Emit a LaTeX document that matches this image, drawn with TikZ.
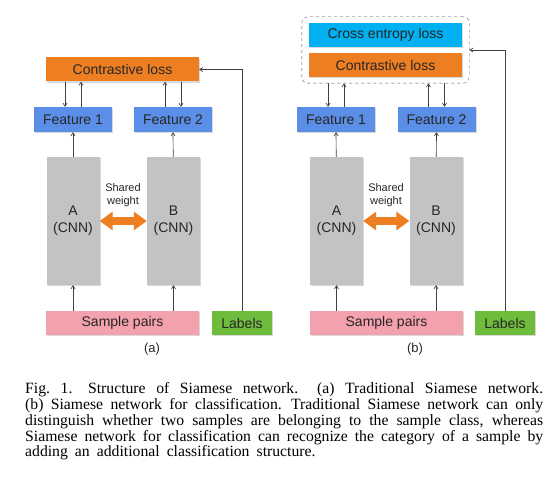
\documentclass[tikz,border=0pt]{standalone}
\usepackage{fontspec}
\setmainfont{Liberation Serif}
\setsansfont{Liberation Sans}
\usetikzlibrary{arrows.meta, positioning, calc, fit, shadows}

\definecolor{lossorange}{HTML}{EE7E22}
\definecolor{featblue}{HTML}{5B8EE6}
\definecolor{ceblue}{HTML}{00B0F0}
\definecolor{cnngray}{HTML}{C3C3C3}
\definecolor{pairpink}{HTML}{F4A1AE}
\definecolor{labgreen}{HTML}{6FBB3C}
\definecolor{linegray}{HTML}{404040}

\newcommand{\capspacing}{\spaceskip=0.45em plus 0.3em minus 0.12em\relax}

\begin{document}
\begin{tikzpicture}[x=1pt, y=-1pt,
  blk/.style={inner sep=0pt, align=center, text=black!85,
    font=\sffamily\fontsize{14}{17}\selectfont,
    drop shadow={shadow xshift=1pt, shadow yshift=-1.2pt, opacity=0.3}},
  lossbox/.style={blk, fill=lossorange, minimum width=153pt, minimum height=24pt},
  cebox/.style={blk, fill=ceblue, minimum width=153pt, minimum height=24pt},
  featbox/.style={blk, fill=featblue, minimum width=78pt, minimum height=25pt},
  cnnbox/.style={blk, fill=cnngray, minimum width=53pt, minimum height=128pt},
  pairbox/.style={blk, fill=pairpink, minimum width=153pt, minimum height=24pt},
  labbox/.style={blk, fill=labgreen, minimum width=60pt, minimum height=24pt},
  share/.style={align=center, text=black!85, font=\sffamily\fontsize{11}{13}\selectfont},
  sublabel/.style={text=black!85, font=\sffamily\fontsize{13}{15}\selectfont},
  conn/.style={draw=linegray, line width=0.7pt, -{Straight Barb[length=3pt,width=4pt]}},
  twoway/.style={draw=lossorange, line width=8pt,
    {Triangle[length=13pt,width=18pt]}-{Triangle[length=13pt,width=18pt]}}]
\useasboundingbox (0,0) rectangle (557,495);

% (a) traditional Siamese network
\node (closs1) at (122.5,69.5) [lossbox] {Contrastive loss};
\node (feat1a) at (73,119.5) [featbox] {Feature 1};
\node (feat2a) at (173,119.5) [featbox] {Feature 2};
\node (cnnA1) at (73,221) [cnnbox] {A\\(CNN)};
\node (cnnB1) at (173.5,221) [cnnbox] {B\\(CNN)};
\node (share1) at (123,195.5) [share] {Shared\\weight};
\node (pairs1) at (122.5,323) [pairbox] {Sample pairs};
\node (labels1) at (242,323) [labbox] {Labels};
\node (suba) at (152,349) [sublabel] {(a)};

\draw[twoway] (cnnA1) -- (cnnB1);
\draw[conn] (pairs1.north -| cnnA1) -- (cnnA1);
\draw[conn] (pairs1.north -| cnnB1) -- (cnnB1);
\draw[conn] (cnnA1) -- (feat1a);
\draw[conn] (cnnB1) -- (feat2a);
\draw[conn] ([xshift=-8pt]feat1a.north |- closs1.south) -- ([xshift=-8pt]feat1a.north);
\draw[conn] ([xshift=8pt]feat1a.north) -- ([xshift=8pt]feat1a.north |- closs1.south);
\draw[conn] ([xshift=-8pt]feat2a.north) -- ([xshift=-8pt]feat2a.north |- closs1.south);
\draw[conn] ([xshift=8pt]feat2a.north |- closs1.south) -- ([xshift=8pt]feat2a.north);
\draw[conn] (labels1.north) |- (closs1.east);

% (b) Siamese network for classification
\node (celoss) at (385.5,35) [cebox] {Cross entropy loss};
\node (closs2) at (385.5,65) [lossbox] {Contrastive loss};
\node (lossgrp) [fit=(celoss)(closs2), draw=black!70, dashed, rounded corners=6pt,
  inner xsep=7pt, inner ysep=6pt] {};
\node (feat1b) at (336,119.5) [featbox] {Feature 1};
\node (feat2b) at (436.5,119.5) [featbox] {Feature 2};
\node (cnnA2) at (336.5,221) [cnnbox] {A\\(CNN)};
\node (cnnB2) at (436,221) [cnnbox] {B\\(CNN)};
\node (share2) at (386,195.5) [share] {Shared\\weight};
\node (pairs2) at (386.5,323) [pairbox] {Sample pairs};
\node (labels2) at (505,323) [labbox] {Labels};
\node (subb) at (415,349) [sublabel] {(b)};

\draw[twoway] (cnnA2) -- (cnnB2);
\draw[conn] (pairs2.north -| cnnA2) -- (cnnA2);
\draw[conn] (pairs2.north -| cnnB2) -- (cnnB2);
\draw[conn] (cnnA2) -- (feat1b);
\draw[conn] (cnnB2) -- (feat2b);
\draw[conn] ([xshift=-8pt]feat1b.north |- lossgrp.south) -- ([xshift=-8pt]feat1b.north);
\draw[conn] ([xshift=8pt]feat1b.north) -- ([xshift=8pt]feat1b.north |- lossgrp.south);
\draw[conn] ([xshift=-8pt]feat2b.north) -- ([xshift=-8pt]feat2b.north |- lossgrp.south);
\draw[conn] ([xshift=8pt]feat2b.north |- lossgrp.south) -- ([xshift=8pt]feat2b.north);
\draw[conn] (labels2.north) |- (lossgrp.east);

% caption
\node (caption) at (25,382.5) [anchor=north west, inner sep=0pt, text width=518pt,
  align=justify, font=\fontsize{15.7}{15.8}\selectfont]
  {\capspacing Fig.~1.\hspace{1em}Structure of Siamese network. (a) Traditional Siamese network.\linebreak
   (b) Siamese network for classification. Traditional Siamese network can only\linebreak
   distinguish whether two samples are belonging to the sample class, whereas\linebreak
   Siamese network for classification can recognize the category of a sample by\linebreak
   adding an additional classification structure.};
\end{tikzpicture}
\end{document}
